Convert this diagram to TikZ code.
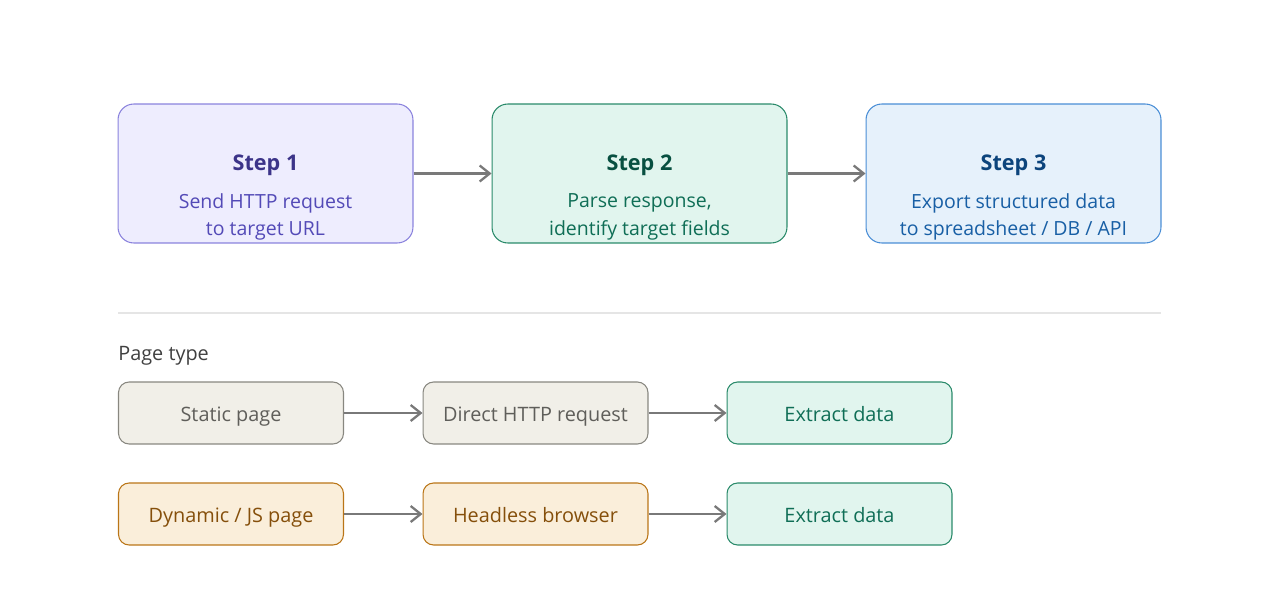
\documentclass[tikz,border=0pt]{standalone}
\usepackage{fontspec}
\setmainfont{Open Sans}
\usetikzlibrary{arrows.meta,positioning}

\definecolor{purfill}{HTML}{EEEDFE}
\definecolor{purdraw}{HTML}{8A82DD}
\definecolor{purhead}{HTML}{3C3489}
\definecolor{purtext}{HTML}{534AB7}
\definecolor{grnfill}{HTML}{E1F5EE}
\definecolor{grndraw}{HTML}{2A8A6A}
\definecolor{grnhead}{HTML}{085041}
\definecolor{grntext}{HTML}{0F6E56}
\definecolor{blufill}{HTML}{E6F1FB}
\definecolor{bludraw}{HTML}{4A8ED6}
\definecolor{bluhead}{HTML}{0C447C}
\definecolor{blutext}{HTML}{185FA5}
\definecolor{gryfill}{HTML}{F1EFE8}
\definecolor{grydraw}{HTML}{888780}
\definecolor{grytext}{HTML}{5F5E5A}
\definecolor{orgfill}{HTML}{FAEEDA}
\definecolor{orgdraw}{HTML}{BA7517}
\definecolor{orgtext}{HTML}{854F0B}

\begin{document}
\begin{tikzpicture}[
    x=0.02cm, y=-0.02cm,
    stepbox/.style={draw, rounded corners=9pt, line width=0.6pt, minimum width=5.9cm, minimum height=2.78cm, align=center},
    rowbox/.style={draw, rounded corners=6pt, line width=0.6pt, minimum width=4.5cm, minimum height=1.24cm, text height=10pt, text depth=0pt, font=\fontsize{11.3}{13}\selectfont},
    arr/.style={-{Straight Barb[length=2mm, width=3.2mm]}, line width=1.3pt, color=gray!95!black},
  ]
  \useasboundingbox (0,0) rectangle (1280,591);

  % Step boxes
  \node[stepbox, fill=purfill, draw=purdraw] (step1) at (265.5,173.5) {};
  \node[stepbox, fill=grnfill, draw=grndraw] (step2) at (639.5,173.5) {};
  \node[stepbox, fill=blufill, draw=bludraw] (step3) at (1013.5,173.5) {};

  % Step texts
  \node[font=\fontsize{12.3}{15}\selectfont\bfseries, text=purhead] (t1) at (265.5,165) {Step 1};
  \node[font=\fontsize{11.1}{15.8}\selectfont, text=purtext, align=center] (s1) at (265.5,217) {Send HTTP request\\to target URL};
  \node[font=\fontsize{12.3}{15}\selectfont\bfseries, text=grnhead] (t2) at (639.5,165) {Step 2};
  \node[font=\fontsize{11.1}{15.8}\selectfont, text=grntext, align=center] (s2) at (639.5,217) {Parse response,\\identify target fields};
  \node[font=\fontsize{12.3}{15}\selectfont\bfseries, text=bluhead] (t3) at (1013.5,165) {Step 3};
  \node[font=\fontsize{11.1}{15.8}\selectfont, text=blutext, align=center] (s3) at (1013.5,217) {Export structured data\\to spreadsheet / DB / API};

  \draw[arr] (step1) -- (step2);
  \draw[arr] (step2) -- (step3);

  % Separator
  \coordinate (sepl) at (118,313);
  \coordinate (sepr) at (1161,313);
  \draw[gray!20, line width=0.6pt] (sepl) -- (sepr);

  % Page type rows
  \node[anchor=west, font=\fontsize{11.3}{13}\selectfont, text=black!75, inner sep=0pt] (ptype) at (118,356) {Page type};

  \node[rowbox, fill=gryfill, draw=grydraw, text=grytext] (static) at (231,413) {Static page};
  \node[rowbox, fill=gryfill, draw=grydraw, text=grytext] (direct) at (535.5,413) {Direct HTTP request};
  \node[rowbox, fill=grnfill, draw=grndraw, text=grntext] (extr1)  at (839.5,413) {Extract data};

  \node[rowbox, fill=orgfill, draw=orgdraw, text=orgtext] (dynamic)  at (231,514) {Dynamic / JS page};
  \node[rowbox, fill=orgfill, draw=orgdraw, text=orgtext] (headless) at (535.5,514) {Headless browser};
  \node[rowbox, fill=grnfill, draw=grndraw, text=grntext] (extr2)    at (839.5,514) {Extract data};

  \draw[arr] (static) -- (direct);
  \draw[arr] (direct) -- (extr1);
  \draw[arr] (dynamic) -- (headless);
  \draw[arr] (headless) -- (extr2);
\end{tikzpicture}
\end{document}
